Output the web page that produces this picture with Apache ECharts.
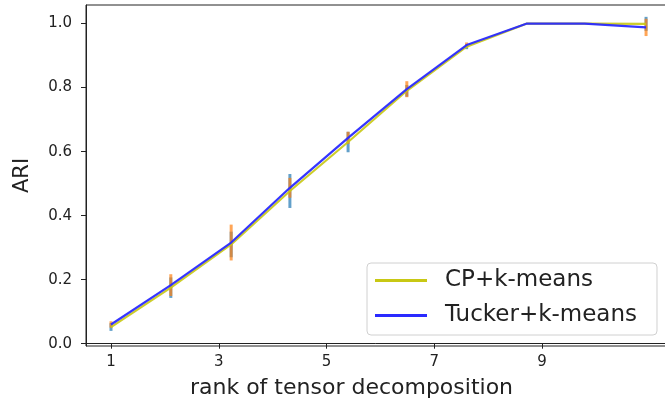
<!DOCTYPE html>
<html>
<head>
<meta charset="utf-8">
<script src="https://cdn.jsdelivr.net/npm/echarts@6/dist/echarts.min.js"></script>
<style>
  html, body { margin: 0; padding: 0; background: #fff; }
</style>
</head>
<body>
<div style="width:665px;height:400px;" id="ariChart"></div>
<script>
    // x position of each rank (as plotted)
    const ranks = [1, 2.11, 3.23, 4.32, 5.40, 6.49, 7.60, 8.72, 9.79, 10.93];
    const cpMean = [0.052, 0.175, 0.310, 0.477, 0.630, 0.790, 0.928, 1.0, 1.0, 0.999];
    const cpStd = [0.012, 0.032, 0.040, 0.053, 0.032, 0.018, 0.008, 0, 0, 0.022];
    const tuckerMean = [0.060, 0.183, 0.316, 0.487, 0.643, 0.795, 0.933, 1.0, 1.0, 0.988];
    const tuckerStd = [0.010, 0.034, 0.056, 0.031, 0.019, 0.025, 0.008, 0, 0, 0.027];
    const xTicks = [1, 3, 5, 7, 9];
    const yTicks = [0, 0.2, 0.4, 0.6, 0.8, 1.0];

    const pairs = (ys) => ranks.map((x, i) => [x, ys[i]]);
    const bars = (ys, sd) => ranks.map((x, i) => [x, ys[i] - sd[i], ys[i] + sd[i]]);

    function errorBar(color) {
        return function (params, api) {
            const top = api.coord([api.value(0), api.value(2)]);
            const bot = api.coord([api.value(0), api.value(1)]);
            return {
                type: 'line',
                shape: { x1: top[0], y1: top[1], x2: bot[0], y2: bot[1] },
                style: { stroke: color, lineWidth: 3, opacity: 0.7 }
            };
        };
    }

    const font = 'DejaVu Sans';
    const chart = echarts.init(document.getElementById('ariChart'));
    const option = {
        animation: false,
        textStyle: { fontFamily: font },
        grid: {
            left: 86, top: 5, right: -8, bottom: 54,
            show: true, borderColor: '#222', borderWidth: 1,
            outerBoundsMode: 'none'
        },
        legend: {
            orient: 'vertical',
            left: 367, top: 263,
            padding: [6, 20, 8, 8],
            itemWidth: 52, itemHeight: 3,
            itemGap: 12,
            icon: 'rect',
            borderColor: '#d0d0d0', borderWidth: 1, borderRadius: 4,
            backgroundColor: 'rgba(255,255,255,0.85)',
            textStyle: { fontFamily: font, fontSize: 23, color: '#222', padding: [0, 0, 0, 13] },
            data: ['CP+k-means', 'Tucker+k-means']
        },
        xAxis: {
            type: 'value',
            min: 0.536, max: 11.43,
            name: 'rank of tensor decomposition',
            nameLocation: 'middle',
            nameGap: 31,
            nameTextStyle: { fontFamily: font, fontSize: 22, color: '#222', padding: [0, 56, 0, 0] },
            axisLine: { lineStyle: { color: '#222' } },
            axisTick: { length: 5, lineStyle: { color: '#222' }, customValues: xTicks },
            axisLabel: { fontFamily: font, fontSize: 15, color: '#222', margin: 9, customValues: xTicks },
            splitLine: { show: false }
        },
        yAxis: {
            type: 'value',
            min: -0.0072, max: 1.058,
            name: 'ARI',
            nameLocation: 'middle',
            nameGap: 53,
            nameTextStyle: { fontFamily: font, fontSize: 21, color: '#222' },
            axisLine: { show: true, lineStyle: { color: '#222' } },
            axisTick: { show: true, length: 5, lineStyle: { color: '#222' }, customValues: yTicks },
            axisLabel: {
                fontFamily: font, fontSize: 15, color: '#222', margin: 14,
                customValues: yTicks,
                formatter: (v) => v.toFixed(1)
            },
            splitLine: { show: false }
        },
        series: [
            {
                name: 'cp-err', type: 'custom', z: 1,
                renderItem: errorBar('#1f77b4'),
                encode: { x: 0, y: [1, 2] },
                data: bars(cpMean, cpStd)
            },
            {
                name: 'tucker-err', type: 'custom', z: 2,
                renderItem: errorBar('#ff7f0e'),
                encode: { x: 0, y: [1, 2] },
                data: bars(tuckerMean, tuckerStd)
            },
            {
                name: 'CP+k-means', type: 'line', z: 3,
                showSymbol: false,
                color: '#c8c814',
                lineStyle: { width: 2.2, color: '#c8c814', opacity: 0.9 },
                data: pairs(cpMean)
            },
            {
                name: 'Tucker+k-means', type: 'line', z: 4,
                showSymbol: false,
                color: '#2a2aff',
                lineStyle: { width: 2.2, color: '#2a2aff', opacity: 0.95 },
                data: pairs(tuckerMean)
            }
        ]
    };
    chart.setOption(option);
</script>
</body>
</html>
